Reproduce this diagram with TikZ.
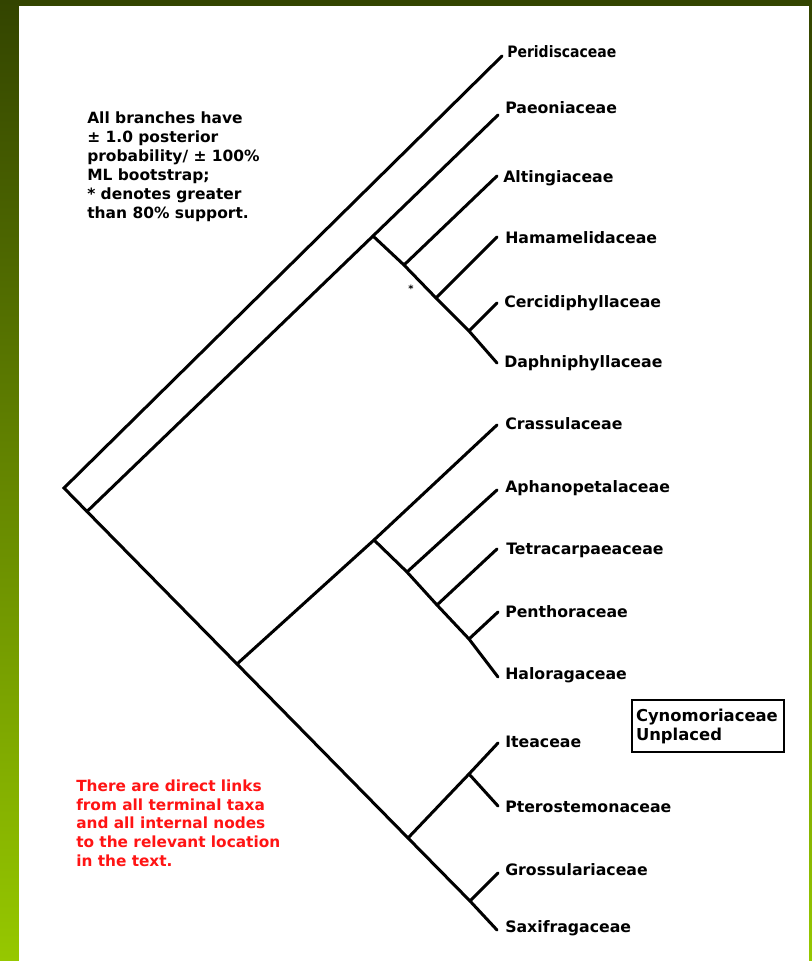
\documentclass[tikz,border=0pt]{standalone}
\usepackage{fontspec}
\setmainfont{DejaVu Sans}
\definecolor{topgreen}{RGB}{51,68,0}
\definecolor{botgreen}{RGB}{150,200,0}
\definecolor{notered}{RGB}{255,20,20}
\begin{document}
\begin{tikzpicture}[x=0.75pt,y=-0.75pt,
  branch/.style={line width=2.25pt, line cap=round, line join=miter},
  taxon/.style={anchor=base west, inner sep=0pt, font=\fontsize{11.8}{13}\selectfont\bfseries},
  note/.style={anchor=north west, inner sep=0pt, align=left, font=\fontsize{11.6}{14.25}\selectfont\bfseries},
  rednote/.style={note, text=notered, font=\fontsize{11.5}{13.9}\selectfont\bfseries},
  unplaced/.style={draw, line width=1.5pt, anchor=north west, align=left, text width=108pt, inner xsep=3pt, inner ysep=6pt, minimum height=39pt, font=\fontsize{12.3}{14.25}\selectfont\bfseries},
  starmark/.style={inner sep=0pt, font=\fontsize{7.5}{8}\selectfont\bfseries}]
\useasboundingbox (0,0) rectangle (812,961);
\shade[top color=topgreen, bottom color=botgreen] (0,0) rectangle (812,961);
\fill[white] (19,6) rectangle (809,961);

% internal nodes
\coordinate (root) at (64,488);
\coordinate (n2) at (87,511.5);
\coordinate (nA) at (373,236);
\coordinate (nA1) at (404,265);
\coordinate (nA2) at (436,298);
\coordinate (nA3) at (469,331);
\coordinate (nB) at (237,664);
\coordinate (nC) at (374,540);
\coordinate (nC1) at (407,572);
\coordinate (nC2) at (437,605);
\coordinate (nC3) at (469,639);
\coordinate (nD) at (408,838);
\coordinate (nD1) at (469,774);
\coordinate (nD2) at (470,901);
% tips
\coordinate (tPer) at (502,56);
\coordinate (tPae) at (498,115);
\coordinate (tAlt) at (497,176);
\coordinate (tHam) at (497,237);
\coordinate (tCer) at (497,303);
\coordinate (tDap) at (497,363);
\coordinate (tCra) at (497,425);
\coordinate (tAph) at (497,490);
\coordinate (tTet) at (497,549);
\coordinate (tPen) at (498,612);
\coordinate (tHal) at (498,677);
\coordinate (tIte) at (498,743);
\coordinate (tPte) at (498,806);
\coordinate (tGro) at (498,873);
\coordinate (tSax) at (497,930);

% branches
\draw[branch] (tPer) -- (root) -- (n2) -- (nB) -- (nD) -- (nD2) -- (tSax);
\draw[branch] (n2) -- (nA) -- (tPae);
\draw[branch] (nA) -- (nA1) -- (nA2) -- (nA3) -- (tDap);
\draw[branch] (nA1) -- (tAlt);
\draw[branch] (nA2) -- (tHam);
\draw[branch] (nA3) -- (tCer);
\draw[branch] (nB) -- (nC) -- (tCra);
\draw[branch] (nC) -- (nC1) -- (nC2) -- (nC3) -- (tHal);
\draw[branch] (nC1) -- (tAph);
\draw[branch] (nC2) -- (tTet);
\draw[branch] (nC3) -- (tPen);
\draw[branch] (nD) -- (nD1) -- (tIte);
\draw[branch] (nD1) -- (tPte);
\draw[branch] (nD2) -- (tGro);

\node[starmark] (star) at (411,289) {*};

% taxon labels
\node[taxon] (lPer) at (507,57) {\scalebox{0.89}[1]{Peridiscaceae}};
\node[taxon] (lPae) at (505,113) {Paeoniaceae};
\node[taxon] (lAlt) at (503,182) {Altingiaceae};
\node[taxon] (lHam) at (505,243) {Hamamelidaceae};
\node[taxon] (lCer) at (504,307) {Cercidiphyllaceae};
\node[taxon] (lDap) at (504,367) {Daphniphyllaceae};
\node[taxon] (lCra) at (505,429) {Crassulaceae};
\node[taxon] (lAph) at (505,492) {Aphanopetalaceae};
\node[taxon] (lTet) at (506,554) {Tetracarpaeaceae};
\node[taxon] (lPen) at (505,617) {Penthoraceae};
\node[taxon] (lHal) at (505,679) {Haloragaceae};
\node[taxon] (lIte) at (505,747) {Iteaceae};
\node[taxon] (lPte) at (505,812) {Pterostemonaceae};
\node[taxon] (lGro) at (505,875) {Grossulariaceae};
\node[taxon] (lSax) at (505,932) {Saxifragaceae};

% notes
\node[note] (legend) at (87,111.5) {All branches have\\± 1.0 posterior\\probability/ ± 100\%\\ML bootstrap;\\* denotes greater\\than 80\% support.};
\node[rednote] (links) at (76,780) {There are direct links\\from all terminal taxa\\and all internal nodes\\to the relevant location\\in the text.};
\node[unplaced] (cyno) at (631,699) {Cynomoriaceae\\Unplaced};
\end{tikzpicture}
\end{document}
